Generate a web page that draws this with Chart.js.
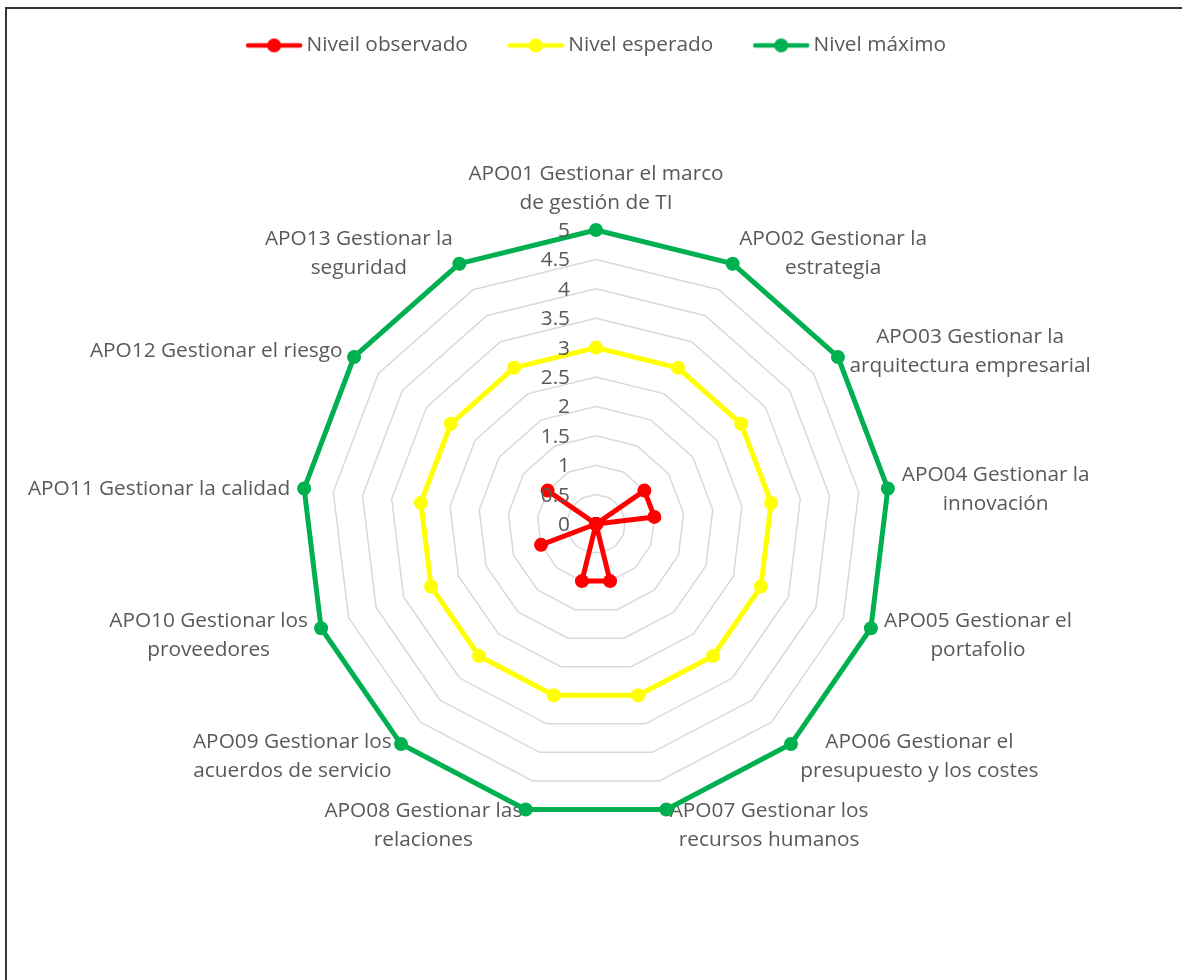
<!DOCTYPE html>
<html>
<head>
<meta charset="utf-8">
<title>Niveles de capacidad APO</title>
<script src="https://cdn.jsdelivr.net/npm/chart.js@4.4.1/dist/chart.umd.min.js"></script>
<style>
  html, body { margin: 0; padding: 0; background: #ffffff; width: 1182px; height: 980px; overflow: hidden; }
  #frame { position: absolute; left: 5px; top: 7px; width: 1400px; height: 1200px;
           border-top: 2px solid #363636; border-left: 2px solid #363636; }
  #wrap { position: absolute; left: 5px; top: -5px; width: 1182px; height: 985px; }
</style>
</head>
<body>
<div id="frame"></div>
<div id="wrap"><canvas id="radar"></canvas></div>
<script>
// Process names (one entry per axis, split into the printed lines)
const categories = [
  ['APO01 Gestionar el marco', 'de gestión de TI'],
  ['APO02 Gestionar la', 'estrategia'],
  ['APO03 Gestionar la', 'arquitectura empresarial'],
  ['APO04 Gestionar la', 'innovación'],
  ['APO05 Gestionar el', 'portafolio'],
  ['APO06 Gestionar el', 'presupuesto y los costes'],
  ['APO07 Gestionar los', 'recursos humanos'],
  ['APO08 Gestionar las', 'relaciones'],
  ['APO09 Gestionar los', 'acuerdos de servicio'],
  ['APO10 Gestionar los', 'proveedores'],
  ['APO11 Gestionar la calidad'],
  ['APO12 Gestionar el riesgo'],
  ['APO13 Gestionar la', 'seguridad']
];
const seriesNames = ['Niveil observado', 'Nivel esperado', 'Nivel máximo'];
const nivelObservado = [0, 0, 1, 1, 0, 0, 1, 1, 0, 1, 0, 1, 0];
const nivelEsperado  = [3, 3, 3, 3, 3, 3, 3, 3, 3, 3, 3, 3, 3];
const nivelMaximo    = [5, 5, 5, 5, 5, 5, 5, 5, 5, 5, 5, 5, 5];
const scaleMin = 0;
const scaleMax = 5;
const scaleStep = 0.5;

// Styling
const colors = ['#ff0000', '#ffff00', '#00b050'];
const textColor = '#595959';
const fontFamily = '"Open Sans", "Noto Sans", sans-serif';
const fontSize = 20.8;
const lineHeight = 29;

// Legend icon: short line with a dot in the middle; drawn in the right part
// of the image so that it starts at the legend box edge
function legendIcon(color) {
  const c = document.createElement('canvas');
  c.width = 64; c.height = 16;
  const g = c.getContext('2d');
  g.strokeStyle = color; g.lineWidth = 4.5; g.lineCap = 'round';
  g.beginPath(); g.moveTo(9, 8); g.lineTo(61, 8); g.stroke();
  g.fillStyle = color;
  g.beginPath(); g.arc(35, 8, 7, 0, Math.PI * 2); g.fill();
  return c;
}
const legendIcons = colors.map(legendIcon);

// Leaves room between the legend and the plot
const legendGap = {
  id: 'legendGap',
  afterInit(chart) {
    const legend = chart.legend;
    const fit = legend.fit;
    legend.fit = function () { fit.call(this); this.height += 165; };
  }
};

// Axis names: lines centred on each other, placed just outside each spoke
const axisNames = {
  id: 'axisNames',
  beforeDatasetsDraw(chart) {
    const s = chart.scales.r;
    const ctx = chart.ctx;
    const labels = chart.data.labels;
    const n = labels.length;
    ctx.save();
    ctx.font = fontSize + 'px ' + fontFamily;
    ctx.fillStyle = textColor;
    ctx.textBaseline = 'middle';
    ctx.textAlign = 'center';
    labels.forEach((lines, i) => {
      const deg = (i * 360) / n;
      const w = Math.max(...lines.map(l => ctx.measureText(l).width));
      const h = lines.length * lineHeight;
      let cx, top;
      if (deg < 1) {
        const p = s.getPointPosition(i, s.drawingArea + 12);
        cx = p.x; top = p.y - h;
      } else {
        const p = s.getPointPosition(i, s.drawingArea + 14);
        cx = deg < 180 ? p.x + w / 2 : p.x - w / 2;
        top = p.y - h / 2 + 2.5;
      }
      lines.forEach((l, k) => ctx.fillText(l, cx, top + lineHeight * (k + 0.5)));
    });
    ctx.restore();
  },
  // Value ticks, right-aligned to the left of the vertical spoke
  afterDatasetsDraw(chart) {
    const s = chart.scales.r;
    const ctx = chart.ctx;
    ctx.save();
    ctx.font = fontSize + 'px ' + fontFamily;
    ctx.fillStyle = textColor;
    ctx.textBaseline = 'middle';
    ctx.textAlign = 'right';
    s.ticks.forEach(t => {
      const y = s.yCenter - s.getDistanceFromCenterForValue(t.value);
      ctx.fillText(String(Number(t.value.toFixed(2))), s.xCenter - 26, y + 1);
    });
    ctx.restore();
  }
};

function series(i, data) {
  return {
    label: seriesNames[i],
    data: data,
    borderColor: colors[i],
    backgroundColor: colors[i],
    pointBackgroundColor: colors[i],
    pointBorderColor: colors[i],
    borderWidth: 5,
    borderJoinStyle: 'round',
    pointRadius: 7,
    pointHoverRadius: 7,
    pointBorderWidth: 0,
    fill: false
  };
}

new Chart(document.getElementById('radar'), {
  type: 'radar',
  data: {
    labels: categories,
    datasets: [
      series(0, nivelObservado),
      series(1, nivelEsperado),
      series(2, nivelMaximo)
    ]
  },
  options: {
    responsive: true,
    maintainAspectRatio: false,
    animation: false,
    layout: { padding: { top: 0, right: 0, bottom: 161, left: 0 } },
    plugins: {
      tooltip: { enabled: false },
      legend: {
        position: 'top',
        labels: {
          color: textColor,
          font: { family: fontFamily, size: fontSize },
          usePointStyle: true,
          pointStyleWidth: 50,
          padding: 40,
          generateLabels(chart) {
            const items = Chart.defaults.plugins.legend.labels.generateLabels(chart);
            items.forEach((it, i) => { it.pointStyle = legendIcons[i]; });
            return items;
          }
        }
      }
    },
    scales: {
      r: {
        min: scaleMin,
        max: scaleMax,
        ticks: { stepSize: scaleStep, display: false },
        grid: { color: '#d9d9d9', lineWidth: 1.5, circular: false },
        angleLines: { display: false },
        pointLabels: { display: false }
      }
    }
  },
  plugins: [legendGap, axisNames]
});
</script>
</body>
</html>
